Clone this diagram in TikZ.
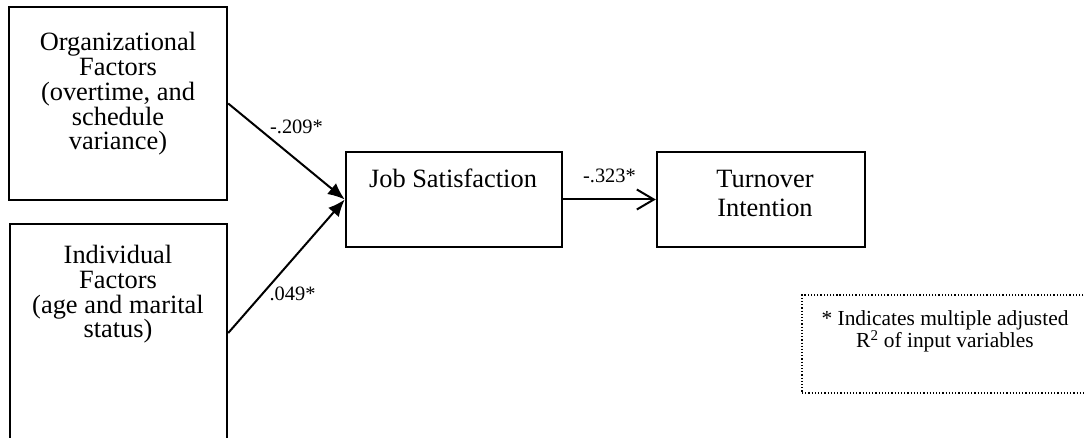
\documentclass[tikz,border=0pt]{standalone}
\usepackage{fontspec}
\setmainfont{Liberation Serif}
\usetikzlibrary{arrows.meta}

\tikzset{
    box/.style={draw, line width=2.4bp, inner sep=0pt},
    txt/.style={align=center, anchor=base, inner sep=0pt, font=\fontsize{26.5}{25}\selectfont},
    coef/.style={inner sep=0pt, font=\fontsize{20.5}{24}\selectfont},
    path/.style={line width=2bp, -{Latex[length=17bp,width=14bp]}},
}

\begin{document}
\begin{tikzpicture}[x=1bp, y=-1bp]
    \useasboundingbox (0,0) rectangle (1084,438);

    % boxes
    \node[box, minimum width=218bp, minimum height=193bp] (org) at (118, 103.5) {};
    \node[box, minimum width=217bp, minimum height=218bp] (ind) at (118.5, 333) {};
    \node[box, minimum width=216bp, minimum height=95bp] (job) at (454, 199.5) {};
    \node[box, minimum width=208bp, minimum height=95bp] (turn) at (761, 199.5) {};
    \node[draw, dotted, line width=1.2bp, minimum width=288bp, minimum height=98bp] (note) at (946, 344) {};

    % texts (anchored at the last line)
    \node[txt] (orgtxt) at (118, 150) {Organizational\\Factors\\(overtime, and\\schedule\\variance)};
    \node[txt] (indtxt) at (118, 338) {Individual\\Factors\\(age and marital\\status)};
    \node[txt] (jobtxt) at (453, 188) {Job Satisfaction};
    \node[txt, font=\fontsize{26.5}{30}\selectfont] (turntxt) at (765, 217) {Turnover\\Intention};
    \node[txt, font=\fontsize{21.5}{23}\selectfont] (notetxt) at (945, 348)
        {* Indicates multiple adjusted\\R\textsuperscript{2} of input variables};

    % paths
    \draw[path] (org.east) -- (job.west) node[coef, pos=0.5, xshift=10bp, yshift=25bp] (c1) {-.209*};
    \draw[path] (ind.east) -- (job.west) node[coef, pos=0.5, xshift=6bp, yshift=-28bp] (c2) {.049*};
    \draw[line width=2bp, -{Straight Barb[length=17bp,width=20bp]}] (job.east) -- (turn.west)
        node[coef, midway, yshift=24bp] (c3) {-.323*};
\end{tikzpicture}
\end{document}
